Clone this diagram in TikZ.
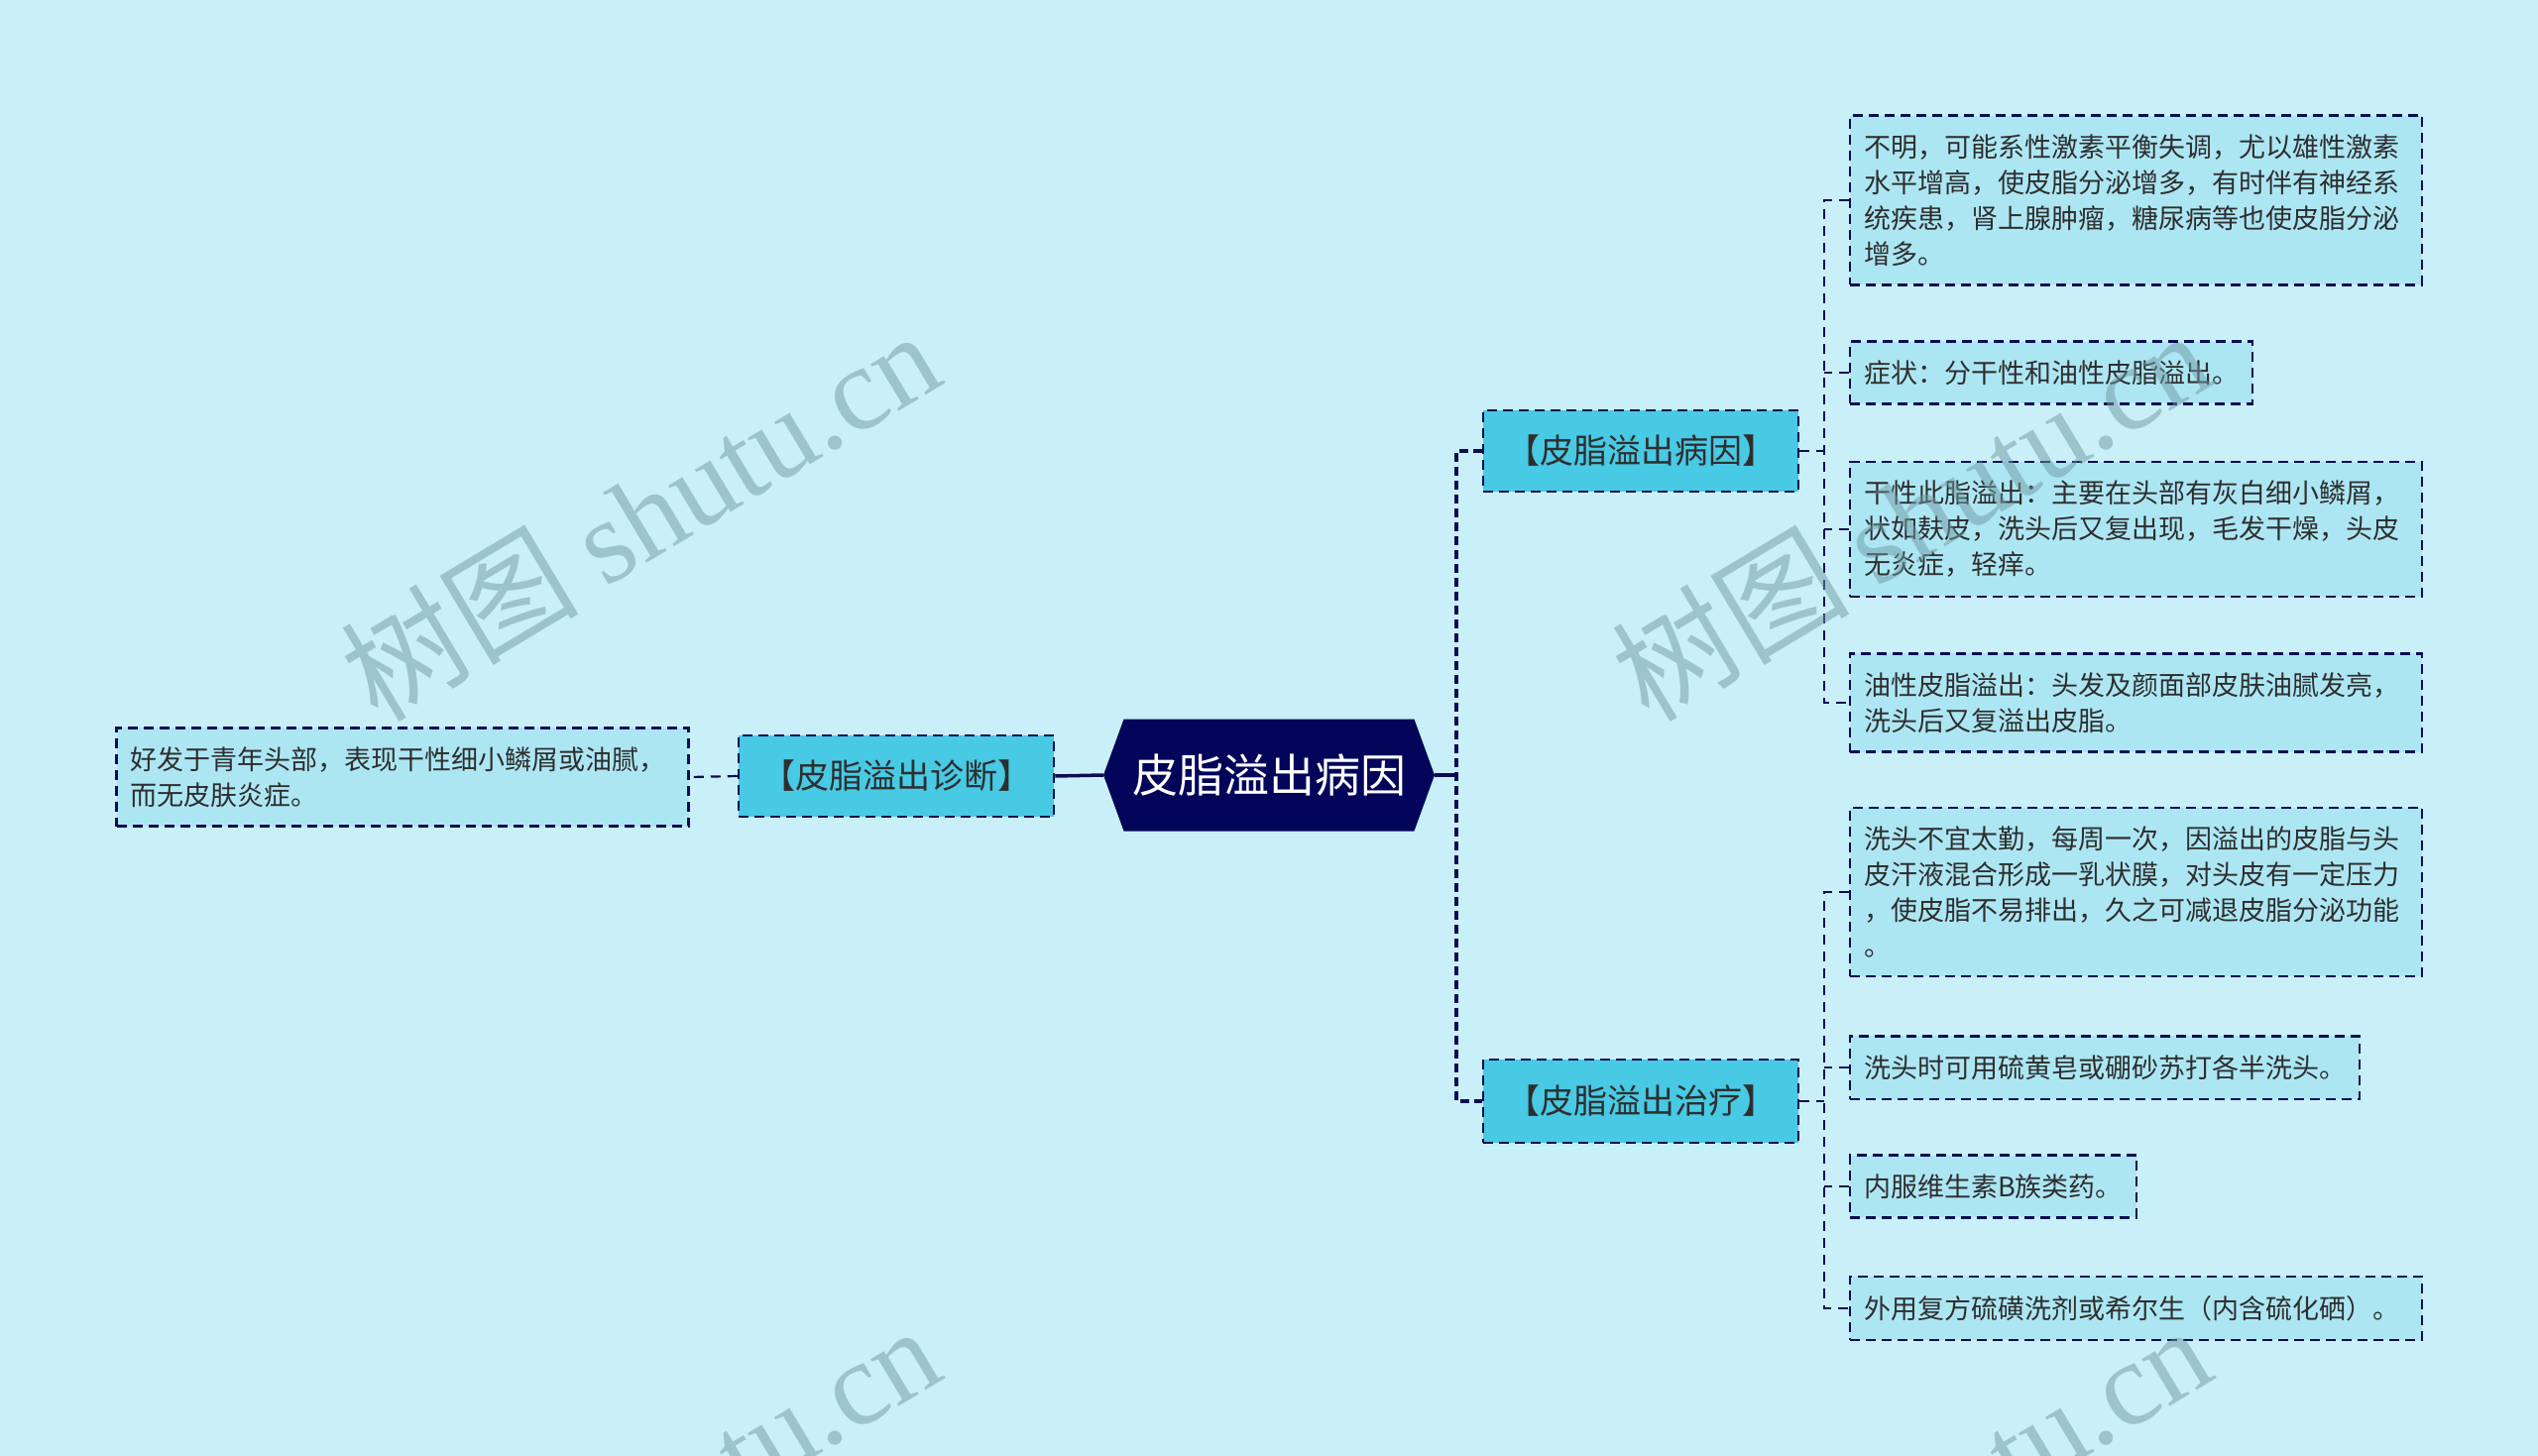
\documentclass[tikz,border=0pt]{standalone}
\usepackage{fontspec}
\setmainfont{Noto Sans CJK SC}
\newfontfamily\wmlatin{Liberation Serif}
\usetikzlibrary{shapes.symbols}

\definecolor{bgcol}{HTML}{C9F0F8}
\definecolor{linecol}{HTML}{0C0C52}
\definecolor{rootcol}{HTML}{03055A}
\definecolor{branchcol}{HTML}{48C9E4}
\definecolor{leafcol}{HTML}{ADE6F3}
\definecolor{textcol}{HTML}{2E2E2E}
\definecolor{wmcol}{HTML}{6F99A2}

\begin{document}
\begin{tikzpicture}[x=1pt,y=-1pt,
  rootnode/.style={signal, signal to=west and east, signal pointer angle=140, fill=rootcol, text=white,
    font=\fontsize{46pt}{50pt}\selectfont, minimum width=334pt, minimum height=113pt, inner sep=0pt},
  branchnode/.style={draw=linecol, line width=2.5pt, dash pattern=on 10pt off 6pt, fill=branchcol, text=textcol,
    font=\fontsize{34pt}{40pt}\selectfont, minimum width=318pt, minimum height=82pt, inner sep=0pt},
  leafnode/.style={draw=linecol, line width=2.2pt, dash pattern=on 10pt off 6pt, fill=leafcol, text=textcol,
    font=\fontsize{27pt}{36pt}\selectfont, align=left, inner xsep=14pt, inner ysep=19pt, anchor=west},
  wideleaf/.style={leafnode, text width=549pt},
  mainlink/.style={draw=linecol, line width=3.5pt},
  branchlink/.style={draw=linecol, line width=3.5pt, dash pattern=on 9pt off 5pt},
  leaflink/.style={draw=linecol, line width=2.2pt, dash pattern=on 10pt off 7pt}]

\fill[bgcol] (0,0) rectangle (2560,1469);
\useasboundingbox (0,0) rectangle (2560,1469);

% centre and left side
\node[rootnode] (root) at (1280,782) {皮脂溢出病因};
\node[branchnode] (diag) at (904,783) {【皮脂溢出诊断】};
\node[wideleaf, anchor=center] (dleaf) at (406,784) {好发于青年头部，表现干性细小鳞屑或油腻，\\而无皮肤炎症。};

% right side
\node[branchnode] (cause) at (1655,455) {【皮脂溢出病因】};
\node[branchnode, minimum height=84pt] (cure) at (1655,1111) {【皮脂溢出治疗】};

\node[wideleaf] (c1) at (1865,202) {不明，可能系性激素平衡失调，尤以雄性激素\\水平增高，使皮脂分泌增多，有时伴有神经系\\统疾患，肾上腺肿瘤，糖尿病等也使皮脂分泌\\增多。};
\node[leafnode] (c2) at (1865,376) {症状：分干性和油性皮脂溢出。};
\node[wideleaf] (c3) at (1865,534) {干性此脂溢出：主要在头部有灰白细小鳞屑，\\状如麸皮，洗头后又复出现，毛发干燥，头皮\\无炎症，轻痒。};
\node[wideleaf] (c4) at (1865,709) {油性皮脂溢出：头发及颜面部皮肤油腻发亮，\\洗头后又复溢出皮脂。};

\node[wideleaf] (t1) at (1865,900) {洗头不宜太勤，每周一次，因溢出的皮脂与头\\皮汗液混合形成一乳状膜，对头皮有一定压力\\，使皮脂不易排出，久之可减退皮脂分泌功能\\。};
\node[leafnode] (t2) at (1865,1077) {洗头时可用硫黄皂或硼砂苏打各半洗头。};
\node[leafnode] (t3) at (1865,1197) {内服维生素B族类药。};
\node[wideleaf] (t4) at (1865,1320) {外用复方硫磺洗剂或希尔生（内含硫化硒）。};

% connectors
\coordinate (jr) at (1469,782);
\coordinate (jc) at (1840,455);
\coordinate (jt) at (1840,1111);
\draw[mainlink] (root.east) -- (jr);
\draw[branchlink] (cause.west) -| (jr) |- (cure.west);
\draw[mainlink] (root.west) -- (diag.east);
\draw[leaflink] (diag.west) -- (dleaf.east);

\draw[leaflink] (cause.east) -- (jc);
\draw[leaflink] (c1.west) -| (jc) |- (c4.west);
\draw[leaflink] (c2.west) -- (c2.west -| jc);
\draw[leaflink] (c3.west) -- (c3.west -| jc);

\draw[leaflink] (cure.east) -- (jt);
\draw[leaflink] (t1.west) -| (jt) |- (t4.west);
\draw[leaflink] (t2.west) -- (t2.west -| jc);
\draw[leaflink] (t3.west) -- (t3.west -| jc);

% watermark
\begin{scope}
\clip (0,0) rectangle (2560,1469);
\foreach \wx/\wy [count=\i] in {645/519, 1927/519, 645/1523, 1927/1523}
  \node[text=wmcol, opacity=0.5, rotate=31, font=\fontsize{120pt}{130pt}\selectfont] (wm\i) at (\wx,\wy) {树图 {\wmlatin shutu.cn}};
\end{scope}
\end{tikzpicture}
\end{document}
